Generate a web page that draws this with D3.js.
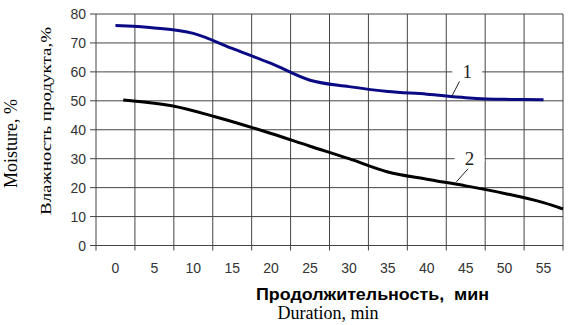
<!DOCTYPE html>
<html>
<head>
<meta charset="utf-8">
<script src="https://cdn.jsdelivr.net/npm/d3@7"></script>
<style>
  body { margin: 0; background: #fff; }
  svg { display: block; }
</style>
</head>
<body>
<svg id="chart"></svg>
<script>
////////////////// data ////////////////////
const xTicks = [0, 5, 10, 15, 20, 25, 30, 35, 40, 45, 50, 55];
const yTicks = [0, 10, 20, 30, 40, 50, 60, 70, 80];
// curve 1 (blue)
const time1 = [0, 5, 10, 15, 20, 25, 30, 35, 40, 45, 50, 55];
const moist1 = [76.0, 75.2, 73.3, 68.1, 62.9, 57.1, 54.9, 53.2, 52.3, 51.1, 50.5, 50.4];
// curve 2 (black)
const time2 = [1, 7.4, 12.8, 20, 25, 30, 35, 40, 45, 50, 55, 57.5];
const moist2 = [50.3, 48.2, 44.5, 38.7, 34.3, 30.0, 25.4, 22.9, 20.6, 18.0, 14.8, 12.6];

const width = 578, height = 325;
const plotLeft = 96, plotRight = 563, plotTop = 14, plotBottom = 245.5;

const svg = d3.select("#chart")
    .attr("width", width)
    .attr("height", height);

const x = d3.scaleLinear().domain([-2.5, 57.5]).range([plotLeft, plotRight]);
const y = d3.scaleLinear().domain([0, 80]).range([plotBottom, plotTop]);

// grid
const gridColor = "#444";
const gridX = d3.range(-2.5, 58, 5);
svg.append("g")
    .selectAll("line")
    .data(gridX)
    .join("line")
    .attr("x1", d => x(d)).attr("x2", d => x(d))
    .attr("y1", plotTop).attr("y2", plotBottom + 5)
    .attr("stroke", gridColor)
    .attr("stroke-width", 1);
svg.append("g")
    .selectAll("line")
    .data(yTicks)
    .join("line")
    .attr("x1", plotLeft - 6).attr("x2", plotRight)
    .attr("y1", d => y(d)).attr("y2", d => y(d))
    .attr("stroke", gridColor)
    .attr("stroke-width", 1);

// tick labels
svg.append("g")
    .selectAll("text")
    .data(yTicks)
    .join("text")
    .attr("x", 86)
    .attr("y", d => y(d) + 5)
    .attr("text-anchor", "end")
    .attr("font-family", "Liberation Sans, Arial, sans-serif")
    .attr("font-size", 14)
    .attr("fill", "#333")
    .text(d => d);
svg.append("g")
    .selectAll("text")
    .data(xTicks)
    .join("text")
    .attr("x", d => x(d))
    .attr("y", 273)
    .attr("text-anchor", "middle")
    .attr("font-family", "Liberation Sans, Arial, sans-serif")
    .attr("font-size", 14)
    .attr("fill", "#333")
    .text(d => d);

// curves
const line = d3.line()
    .x(d => x(d[0]))
    .y(d => y(d[1]))
    .curve(d3.curveMonotoneX);
svg.append("path")
    .attr("d", line(d3.zip(time1, moist1)))
    .attr("fill", "none")
    .attr("stroke", "#0a0a85")
    .attr("stroke-width", 3);
svg.append("path")
    .attr("d", line(d3.zip(time2, moist2)))
    .attr("fill", "none")
    .attr("stroke", "#000")
    .attr("stroke-width", 3);

// curve labels with leader lines
const labels = [
    { text: "1", tx: 45.2, ty: 60, lx1: 44.2, ly1: 56.7, lx2: 43.2, ly2: 51.5 },
    { text: "2", tx: 45.5, ty: 30, lx1: 45.3, ly1: 26.5, lx2: 43.8, ly2: 22.0 }
];
labels.forEach(l => {
    svg.append("rect")
        .attr("x", x(l.tx) - 15).attr("y", y(l.ty) - 3)
        .attr("width", 30).attr("height", 6)
        .attr("fill", "#fff");
    svg.append("text")
        .attr("x", x(l.tx))
        .attr("y", y(l.ty) + 6)
        .attr("text-anchor", "middle")
        .attr("font-family", "Liberation Serif, Times New Roman, serif")
        .attr("font-size", 19)
        .attr("fill", "#222")
        .text(l.text);
    svg.append("line")
        .attr("x1", x(l.lx1)).attr("y1", y(l.ly1))
        .attr("x2", x(l.lx2)).attr("y2", y(l.ly2))
        .attr("stroke", "#222")
        .attr("stroke-width", 1);
});

// axis titles
svg.append("text")
    .attr("x", 256)
    .attr("y", 300)
    .attr("font-family", "Liberation Sans, Arial, sans-serif")
    .attr("font-weight", "bold")
    .attr("font-size", 16)
    .attr("textLength", 233)
    .attr("lengthAdjust", "spacingAndGlyphs")
    .attr("fill", "#000")
    .style("white-space", "pre")
    .text("Продолжительность,  мин");
svg.append("text")
    .attr("x", 328)
    .attr("y", 319)
    .attr("text-anchor", "middle")
    .attr("font-family", "Liberation Serif, Times New Roman, serif")
    .attr("font-size", 18)
    .attr("fill", "#000")
    .text("Duration, min");
svg.append("text")
    .attr("transform", "translate(17,143.5) rotate(-90)")
    .attr("text-anchor", "middle")
    .attr("font-family", "Liberation Serif, Times New Roman, serif")
    .attr("font-size", 18)
    .attr("fill", "#000")
    .text("Moisture, %");
svg.append("text")
    .attr("transform", "translate(51,215) rotate(-90)")
    .attr("font-family", "Liberation Serif, Times New Roman, serif")
    .attr("font-size", 15)
    .attr("textLength", 188)
    .attr("lengthAdjust", "spacingAndGlyphs")
    .attr("fill", "#000")
    .text("Влажность продукта,%");
</script>
</body>
</html>
